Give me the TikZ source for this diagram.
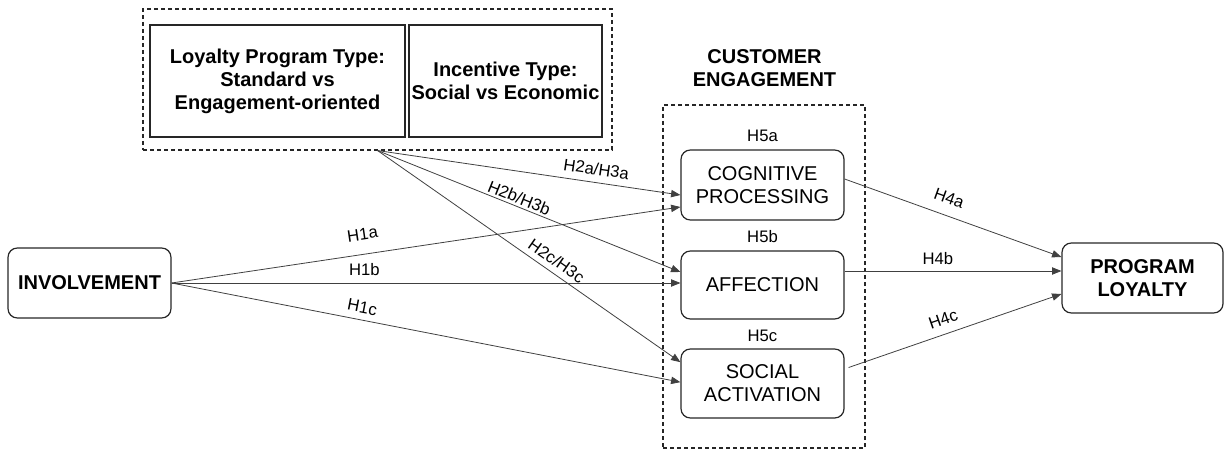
\documentclass[tikz,border=0pt]{standalone}
\usepackage{fontspec}
\setmainfont{Liberation Sans}
\usetikzlibrary{arrows.meta}

\newcommand{\boxfont}{\fontsize{15}{17.25}\selectfont}
\newcommand{\hypfont}{\fontsize{12.5}{15}\selectfont}

\begin{document}
\begin{tikzpicture}[x=0.75pt,y=-0.75pt,
  rbox/.style={draw=black!85, line width=0.9pt, rounded corners=7pt, align=center,
    font=\boxfont, minimum width=122.25pt, minimum height=52.5pt, inner sep=0pt},
  sbox/.style={draw=black!85, line width=0.9pt, align=center, font=\boxfont\bfseries,
    minimum height=84pt, inner sep=0pt},
  group/.style={draw=black!85, line width=0.8pt, dash pattern=on 3pt off 2.25pt, inner sep=0pt},
  path/.style={draw=black!75, line width=0.6pt, -{Triangle[length=7pt,width=5.5pt]}},
  hyp/.style={font=\hypfont, sloped}]
\useasboundingbox (0,0) rectangle (1230,452);

\node[group, minimum width=351.75pt, minimum height=105.75pt] (treat) at (377.5,79.5) {};
\node[sbox, minimum width=191.25pt] (lpt) at (277.5,81) {Loyalty Program Type:\\Standard vs\\Engagement-oriented};
\node[sbox, minimum width=144.75pt] (inc) at (505.5,81) {Incentive Type:\\Social vs Economic};

\node[group, minimum width=151.5pt, minimum height=257.25pt] (ce) at (764,276.5) {};
\node[font=\boxfont\bfseries, align=center] (cetitle) at (764.5,68) {CUSTOMER\\ENGAGEMENT};

\node[rbox, font=\boxfont\bfseries] (inv) at (89.5,283) {INVOLVEMENT};
\node[rbox] (cog) at (762.5,185) {COGNITIVE\\PROCESSING};
\node[rbox, minimum height=51pt] (aff) at (762.5,285) {AFFECTION};
\node[rbox, minimum height=51.75pt] (soc) at (762.5,383.5) {SOCIAL\\ACTIVATION};
\node[rbox, font=\boxfont\bfseries, minimum width=120.75pt] (pl) at (1142.5,278) {PROGRAM\\LOYALTY};

\node[font=\hypfont] (h5a) at (762.5,136) {H5a};
\node[font=\hypfont] (h5b) at (762.5,237) {H5b};
\node[font=\hypfont] (h5c) at (762.5,336) {H5c};

\draw[path] (treat.south) -- node[hyp, above=2pt, pos=0.716] {H2a/H3a} ([yshift=-7.5pt]cog.west);
\draw[path] (treat.south) -- node[hyp, above=-1.5pt, pos=0.457] {H2b/H3b} ([yshift=9.75pt]aff.west);
\draw[path] (treat.south) -- node[hyp, above=1pt, pos=0.568] {H2c/H3c} ([yshift=16pt]soc.west);

\draw[path] (inv.east) -- node[hyp, above=7pt, pos=0.381] {H1a} ([yshift=-16.5pt]cog.west);
\draw[path] (inv.east) -- node[hyp, above=2pt, pos=0.379] {H1b} ([yshift=1.5pt]aff.west);
\draw[path] (inv.east) -- node[hyp, above=1.5pt, pos=0.37] {H1c} ([yshift=1pt]soc.west);

\draw[path] ([yshift=4.5pt]cog.east) -- node[hyp, above=5pt, pos=0.455] {H4a} ([yshift=15.75pt]pl.west);
\draw[path] ([yshift=10.5pt]aff.east) -- node[hyp, above=1pt, pos=0.43] {H4b} ([yshift=5.25pt]pl.west);
\draw[path] ([xshift=3pt,yshift=12pt]soc.east) -- node[hyp, above=3pt, pos=0.467] {H4c} ([yshift=-12pt]pl.west);
\end{tikzpicture}
\end{document}
